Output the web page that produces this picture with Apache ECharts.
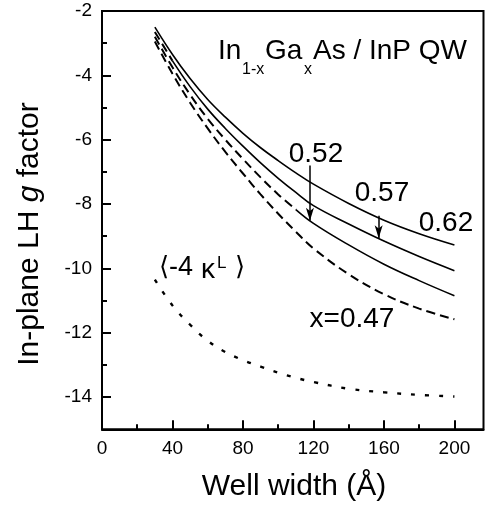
<!DOCTYPE html>
<html><head><meta charset="utf-8">
<script src="https://cdn.jsdelivr.net/npm/echarts@6/dist/echarts.min.js"></script>
<style>html,body{margin:0;padding:0;background:#fff}#c{width:487px;height:508px}</style>
</head><body><div id="c"></div>
<script>
// ---- data ----
const wellWidths = [30, 40, 50, 60, 70, 80, 90, 100, 110, 120, 140, 160, 180, 200];
const g062 = [-2.50, -3.35, -4.10, -4.75, -5.30, -5.80, -6.25, -6.65, -7.03, -7.38, -7.98, -8.50, -8.92, -9.27];
const g057 = [-2.65, -3.55, -4.35, -5.05, -5.65, -6.20, -6.72, -7.20, -7.64, -8.05, -8.62, -9.15, -9.63, -10.07];
const g052 = [-2.80, -3.75, -4.60, -5.35, -6.00, -6.60, -7.17, -7.70, -8.17, -8.60, -9.27, -9.87, -10.38, -10.85];
const g047 = [-2.95, -3.95, -4.85, -5.65, -6.38, -7.05, -7.70, -8.30, -8.86, -9.38, -10.18, -10.80, -11.25, -11.58];
const kappaAvg = [-10.35, -11.15, -11.75, -12.25, -12.60, -12.85, -13.05, -13.24, -13.40, -13.53, -13.74, -13.85, -13.93, -13.98];
const xTickLabels = [0, 40, 80, 120, 160, 200];
const xMinorTicks = [20, 60, 100, 140, 180];
const yTickLabels = [-14, -12, -10, -8, -6, -4, -2];
const yMinorTicks = [-15, -13, -11, -9, -7, -5, -3];
// width where each curve turns from dashed to solid
const solidFrom = { '0.62': 30, '0.57': 40, '0.52': 110, '0.47': Infinity };

const FONT = '"Liberation Sans", Arial, Helvetica, sans-serif';
const pairs = v => wellWidths.map((w, i) => [w, v[i]]);
const curves = [['0.62', g062], ['0.57', g057], ['0.52', g052], ['0.47', g047]];

const series = [];
curves.forEach(([name, vals]) => {
  const pts = pairs(vals);
  const s = solidFrom[name];
  const dashed = pts.filter(p => p[0] <= s);
  const solid = pts.filter(p => p[0] >= s);
  if (dashed.length > 1) series.push({
    type: 'line', name: name + ' dashed', data: dashed, showSymbol: false, smooth: 0.4,
    lineStyle: { color: '#000', width: 2, type: [9, 5] }, z: 3
  });
  if (solid.length > 1) series.push({
    type: 'line', name: name, data: solid, showSymbol: false, smooth: 0.4,
    lineStyle: { color: '#000', width: 1.6, type: 'solid' }, z: 3
  });
});
series.push({
  type: 'line', name: 'kappa', data: pairs(kappaAvg), showSymbol: false, smooth: 0.4,
  lineStyle: { color: '#000', width: 2.4, type: [4, 10] }
});
// arrows pointing at curves 0.52 and 0.57
series.push({
  type: 'line', data: [], markLine: {
    silent: true, animation: false, label: { show: false },
    symbol: ['none', 'arrow'],
    lineStyle: { color: '#000', width: 1.5, type: 'solid' },
    emphasis: { disabled: true },
    data: [
      [{ coord: [118, -6.80], symbol: 'none' }, { coord: [118, -8.52], symbol: 'arrow', symbolSize: [6, 13] }],
      [{ coord: [157, -8.36], symbol: 'none' }, { coord: [157, -9.06], symbol: 'arrow', symbolSize: [6, 13] }]
    ]
  }
});

const axisCommon = {
  type: 'value', axisLine: { show: true, lineStyle: { color: '#000', width: 2 } },
  splitLine: { show: false }
};
const tickLabelStyle = { color: '#000', fontSize: 19, fontFamily: FONT };

const txt = (text, x, y, size, extra) => ({
  type: 'text', x, y, silent: true,
  style: Object.assign({ text, fill: '#000', fontSize: size, fontFamily: FONT,
    align: 'left', verticalAlign: 'middle' }, extra || {})
});

const option = {
  animation: false,
  backgroundColor: '#fff',
  textStyle: { fontFamily: FONT, fontSize: 19 },
  grid: { left: 102, right: 3.5, top: 11, bottom: 78.7, show: true, borderColor: '#000', borderWidth: 2, containLabel: false },
  xAxis: [
    Object.assign({}, axisCommon, {
      min: 0, max: 216.5,
      axisTick: { show: true, inside: true, length: 9, lineStyle: { color: '#000', width: 2 }, customValues: xTickLabels },
      axisLabel: Object.assign({ show: true, margin: 10, customValues: xTickLabels }, tickLabelStyle)
    }),
    Object.assign({}, axisCommon, {
      min: 0, max: 216.5, position: 'bottom', axisLine: { show: false },
      axisTick: { show: true, inside: true, length: 5, lineStyle: { color: '#000', width: 2 }, customValues: xMinorTicks },
      axisLabel: { show: false }
    })
  ],
  yAxis: [
    Object.assign({}, axisCommon, {
      min: -15, max: -2,
      axisTick: { show: true, inside: true, length: 9, lineStyle: { color: '#000', width: 2 }, customValues: yTickLabels },
      axisLabel: Object.assign({ show: true, margin: 10, customValues: yTickLabels }, tickLabelStyle)
    }),
    Object.assign({}, axisCommon, {
      min: -15, max: -2, position: 'left', axisLine: { show: false },
      axisTick: { show: true, inside: true, length: 5, lineStyle: { color: '#000', width: 2 }, customValues: yMinorTicks },
      axisLabel: { show: false }
    })
  ],
  series: series,
  graphic: [
    // axis titles
    { type: 'text', x: 30, y: 234, rotation: Math.PI / 2, silent: true,
      style: { text: '{a|In-plane LH }{b|g}{a| factor}', align: 'center', verticalAlign: 'middle',
        rich: { a: { fontSize: 30, fontFamily: FONT, fill: '#000' },
                b: { fontSize: 30, fontFamily: FONT, fontStyle: 'italic', fill: '#000' } } } },
    txt('Well width (Å)', 294, 487, 30, { align: 'center' }),
    // material label
    txt('In', 218, 51, 28),
    txt('1-x', 242, 70, 16),
    txt('Ga', 265, 51, 28),
    txt('x', 304, 70, 16),
    txt('As / InP QW', 313, 51, 28),
    // composition labels
    txt('0.52', 316, 154, 28, { align: 'center' }),
    txt('0.57', 382, 193, 28, { align: 'center' }),
    txt('0.62', 446, 223, 28, { align: 'center' }),
    txt('x=0.47', 352, 319, 28, { align: 'center' }),
    // <-4 kappa^L>
    txt('\u27E8', 164, 268, 26, { align: 'center', fontFamily: '"DejaVu Sans", sans-serif' }),
    txt('-4', 169, 268, 27),
    txt('\u03BA', 201, 270, 28),
    txt('L', 217, 263, 17),
    txt('\u27E9', 240, 268, 26, { align: 'center', fontFamily: '"DejaVu Sans", sans-serif' })
  ]
};
const chart = echarts.init(document.getElementById('c'), null, { renderer: 'canvas' });
chart.setOption(option);
</script></body></html>
